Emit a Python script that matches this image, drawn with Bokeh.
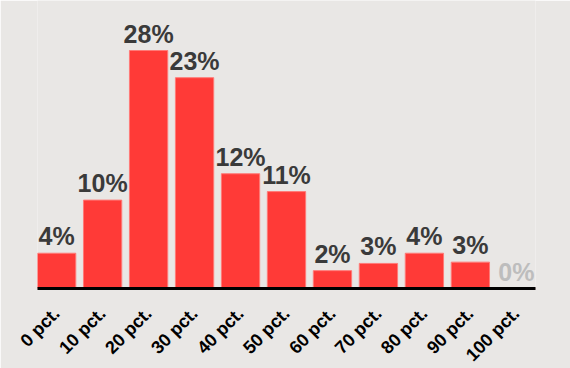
from bokeh.plotting import figure
from bokeh.models import ColumnDataSource, FixedTicker, Range1d
from bokeh.core.properties import value
from bokeh.embed import file_html
from bokeh.resources import INLINE

categories = ["0 pct.", "10 pct.", "20 pct.", "30 pct.", "40 pct.", "50 pct.",
              "60 pct.", "70 pct.", "80 pct.", "90 pct.", "100 pct."]
shares = [4.15, 10.4, 28.0, 24.8, 13.5, 11.4, 2.1, 2.95, 4.15, 3.1, 0.0]
share_labels = ["4%", "10%", "28%", "23%", "12%", "11%", "2%", "3%", "4%", "3%", "0%"]

BG = "#E9E7E5"
RED = "#FF3A37"
BAR_W = 0.833

xs = list(range(len(categories)))
label_colors = ["#3A3A3A" if s > 0 else "#BDBDBD" for s in shares]
src = ColumnDataSource(dict(x=xs, top=shares, lab=share_labels, col=label_colors))

p = figure(frame_width=498, frame_height=288, output_backend="svg", toolbar_location=None,
           x_range=Range1d(-BAR_W / 2, len(categories) - 1 + BAR_W / 2),
           y_range=Range1d(0, 288 / 8.5),
           min_border_left=37, min_border_right=35, min_border_top=0, min_border_bottom=80)
p.background_fill_color = BG
p.border_fill_color = BG
p.outline_line_color = None
p.xgrid.visible = False
p.ygrid.visible = False
p.yaxis.visible = False

p.vbar(x="x", top="top", bottom=0, width=BAR_W, source=src,
       fill_color=RED, line_color="#FF7A77", line_width=1)

p.text(x="x", y="top", text="lab", source=src, text_color="col",
       text_font=value("Liberation Sans"), text_font_style="bold",
       text_font_size="25px", text_align="center", text_baseline="alphabetic",
       y_offset=-17)

ax = p.xaxis[0]
ax.ticker = FixedTicker(ticks=xs)
ax.major_label_overrides = {i: c for i, c in zip(xs, categories)}
ax.major_label_orientation = 0.785398
ax.major_label_text_font = "Liberation Sans"
ax.major_label_text_font_style = "bold"
ax.major_label_text_font_size = "18px"
ax.major_label_text_color = "#000000"
ax.major_tick_line_color = None
ax.minor_tick_line_color = None
ax.axis_line_color = "black"
ax.axis_line_width = 3
ax.major_label_standoff = 16

open("out.html", "w").write(file_html(p, INLINE))
